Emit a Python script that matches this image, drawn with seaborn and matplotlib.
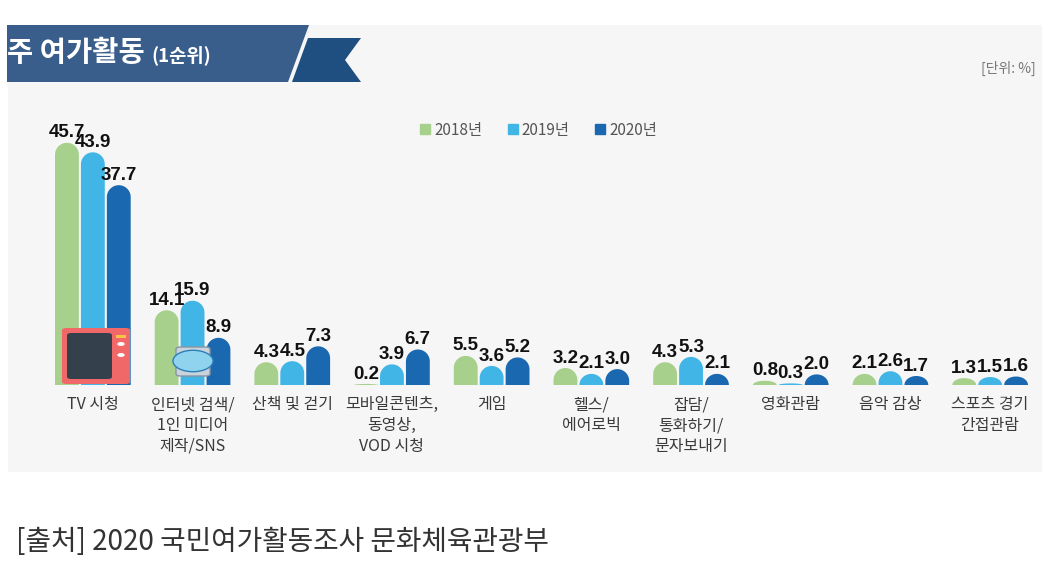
import numpy as np
import pandas as pd
import matplotlib
matplotlib.use('Agg')
import matplotlib.pyplot as plt
import seaborn as sns
from matplotlib.patches import Polygon, Rectangle, PathPatch, FancyBboxPatch, Circle
from matplotlib.path import Path
from matplotlib.lines import Line2D

# data
categories = ['TV 시청', '인터넷 검색/\n1인 미디어\n제작/SNS', '산책 및 걷기',
              '모바일콘텐츠,\n동영상,\nVOD 시청', '게임', '헬스/\n에어로빅',
              '잡담/\n통화하기/\n문자보내기', '영화관람', '음악 감상', '스포츠 경기\n간접관람']
years = ['2018년', '2019년', '2020년']
v2018 = [45.7, 14.1, 4.3, 0.2, 5.5, 3.2, 4.3, 0.8, 2.1, 1.3]
v2019 = [43.9, 15.9, 4.5, 3.9, 3.6, 2.1, 5.3, 0.3, 2.6, 1.5]
v2020 = [37.7, 8.9, 7.3, 6.7, 5.2, 3.0, 2.1, 2.0, 1.7, 1.6]
colors = ['#a8d08d', '#41b6e6', '#1a68b0']

df = pd.DataFrame({
    'category': categories * 3,
    'year': [years[0]] * 10 + [years[1]] * 10 + [years[2]] * 10,
    'value': v2018 + v2019 + v2020,
})

sns.set_style('white')
kr = ['Noto Sans CJK KR', 'DejaVu Sans']
plt.rcParams['font.family'] = kr

W, H = 1055, 564
fig = plt.figure(figsize=(W / 100, H / 100), dpi=100)
fig.patch.set_facecolor('white')


def fx(p):
    return p / W


def fy(p):
    return 1 - p / H


# grey panel
fig.patches.append(Rectangle((fx(8), fy(472)), fx(1042) - fx(8), fy(25) - fy(472),
                             transform=fig.transFigure, facecolor='#f6f6f6', edgecolor='none', zorder=-5))
# title banner
banner = [(7, 25), (309, 25), (288, 82), (7, 82)]
fig.patches.append(Polygon([(fx(a), fy(b)) for a, b in banner], closed=True,
                           transform=fig.transFigure, facecolor='#3a5e8c', edgecolor='none', zorder=1))
ribbon = [(308, 38), (361, 38), (345, 60), (361, 82), (292, 82)]
fig.patches.append(Polygon([(fx(a), fy(b)) for a, b in ribbon], closed=True,
                           transform=fig.transFigure, facecolor='#1f4f80', edgecolor='none', zorder=1))
fig.text(fx(7), fy(53), '주 여가활동', color='white', fontsize=20.5, fontweight='bold', va='center', ha='left',
         zorder=2)
fig.text(fx(151), fy(55), '(1순위)', color='white', fontsize=13.5, fontweight='bold', va='center', ha='left',
         zorder=2)
fig.text(fx(1036), fy(68), '[단위: %]', color='#777777', fontsize=10, va='center', ha='right')
fig.text(fx(16), fy(542), '[출처] 2020 국민여가활동조사 문화체육관광부', color='#333333',
         fontsize=20, fontweight='light', va='center', ha='left')

ax = fig.add_axes([fx(43), fy(385), fx(1040) - fx(43), fy(120) - fy(385)])
ax.set_facecolor('none')
sns.barplot(data=df, x='category', y='value', hue='year', palette=colors,
            width=0.78, gap=0.08, ax=ax, legend=False, saturation=1)
ax.set_xlim(-0.5, 9.5)
ax.set_ylim(0, 50)
for s in ax.spines.values():
    s.set_visible(False)
ax.set_yticks([])
ax.set_xlabel('')
ax.set_ylabel('')
ax.tick_params(axis='x', length=0, pad=8)
ax.set_xticks(range(len(categories)))
ax.set_xticklabels(categories, fontsize=11.5, color='#3a3a3a', linespacing=1.3, va='top',
                   fontweight='medium')

# rounded tops
T = ax.transData
px_x = T.transform((1, 0))[0] - T.transform((0, 0))[0]
px_y = T.transform((0, 1))[1] - T.transform((0, 0))[1]
for bar in list(ax.patches):
    x0, w, h = bar.get_x(), bar.get_width(), bar.get_height()
    rx = w / 2
    ry = min(rx * px_x / px_y, h)
    th = np.linspace(np.pi, 0, 40)
    xs = x0 + rx + rx * np.cos(th)
    ys = (h - ry) + ry * np.sin(th)
    verts = [(x0, 0)] + list(zip(xs, ys)) + [(x0 + w, 0), (x0, 0)]
    codes = [Path.MOVETO] + [Path.LINETO] * (len(verts) - 2) + [Path.CLOSEPOLY]
    ax.add_patch(PathPatch(Path(verts, codes), facecolor=bar.get_facecolor(), edgecolor='none', zorder=2))
    bar.set_visible(False)

# value labels
for cont in ax.containers:
    ax.bar_label(cont, fmt='%.1f', padding=1, fontsize=13.5, fontweight='bold', color='#111111',
                 family=['Liberation Sans', 'DejaVu Sans'], zorder=5)

# simple TV icon
tv = FancyBboxPatch((fx(62), fy(384)), fx(130) - fx(62), fy(328) - fy(384),
                    boxstyle='round,pad=0,rounding_size=0.004', transform=fig.transFigure,
                    facecolor='#f06868', edgecolor='none', zorder=3)
fig.patches.append(tv)
fig.patches.append(FancyBboxPatch((fx(67), fy(379)), fx(112) - fx(67), fy(333) - fy(379),
                                  boxstyle='round,pad=0,rounding_size=0.004', transform=fig.transFigure,
                                  facecolor='#34404c', edgecolor='none', zorder=4))
for cy in (344, 355):
    fig.patches.append(Circle((fx(121), fy(cy)), 0.0035, transform=fig.transFigure,
                              facecolor='white', edgecolor='none', zorder=4))
fig.patches.append(Rectangle((fx(116), fy(338)), fx(126) - fx(116), 0.006, transform=fig.transFigure,
                             facecolor='#f7c14a', edgecolor='none', zorder=4))

# simple monitor icon
fig.patches.append(FancyBboxPatch((fx(176), fy(376)), fx(210) - fx(176), fy(347) - fy(376),
                                  boxstyle='round,pad=0,rounding_size=0.004', transform=fig.transFigure,
                                  facecolor='#c9d3dc', edgecolor='#8796a5', lw=1, zorder=3))
fig.patches.append(Circle((fx(193), fy(361)), 0.019, transform=fig.transFigure,
                          facecolor='#8fd3ef', edgecolor='#2c7fb8', lw=1, zorder=4))

# legend
handles = [Line2D([], [], marker='s', linestyle='none', markersize=7, color=c) for c in colors]
fig.legend(handles, years, loc='center', bbox_to_anchor=(fx(538), fy(130)), ncol=3, frameon=False,
           fontsize=11, labelcolor='#555555', handletextpad=0.2, columnspacing=1.6, handlelength=0.8)

plt.savefig('out.png', dpi=100)
